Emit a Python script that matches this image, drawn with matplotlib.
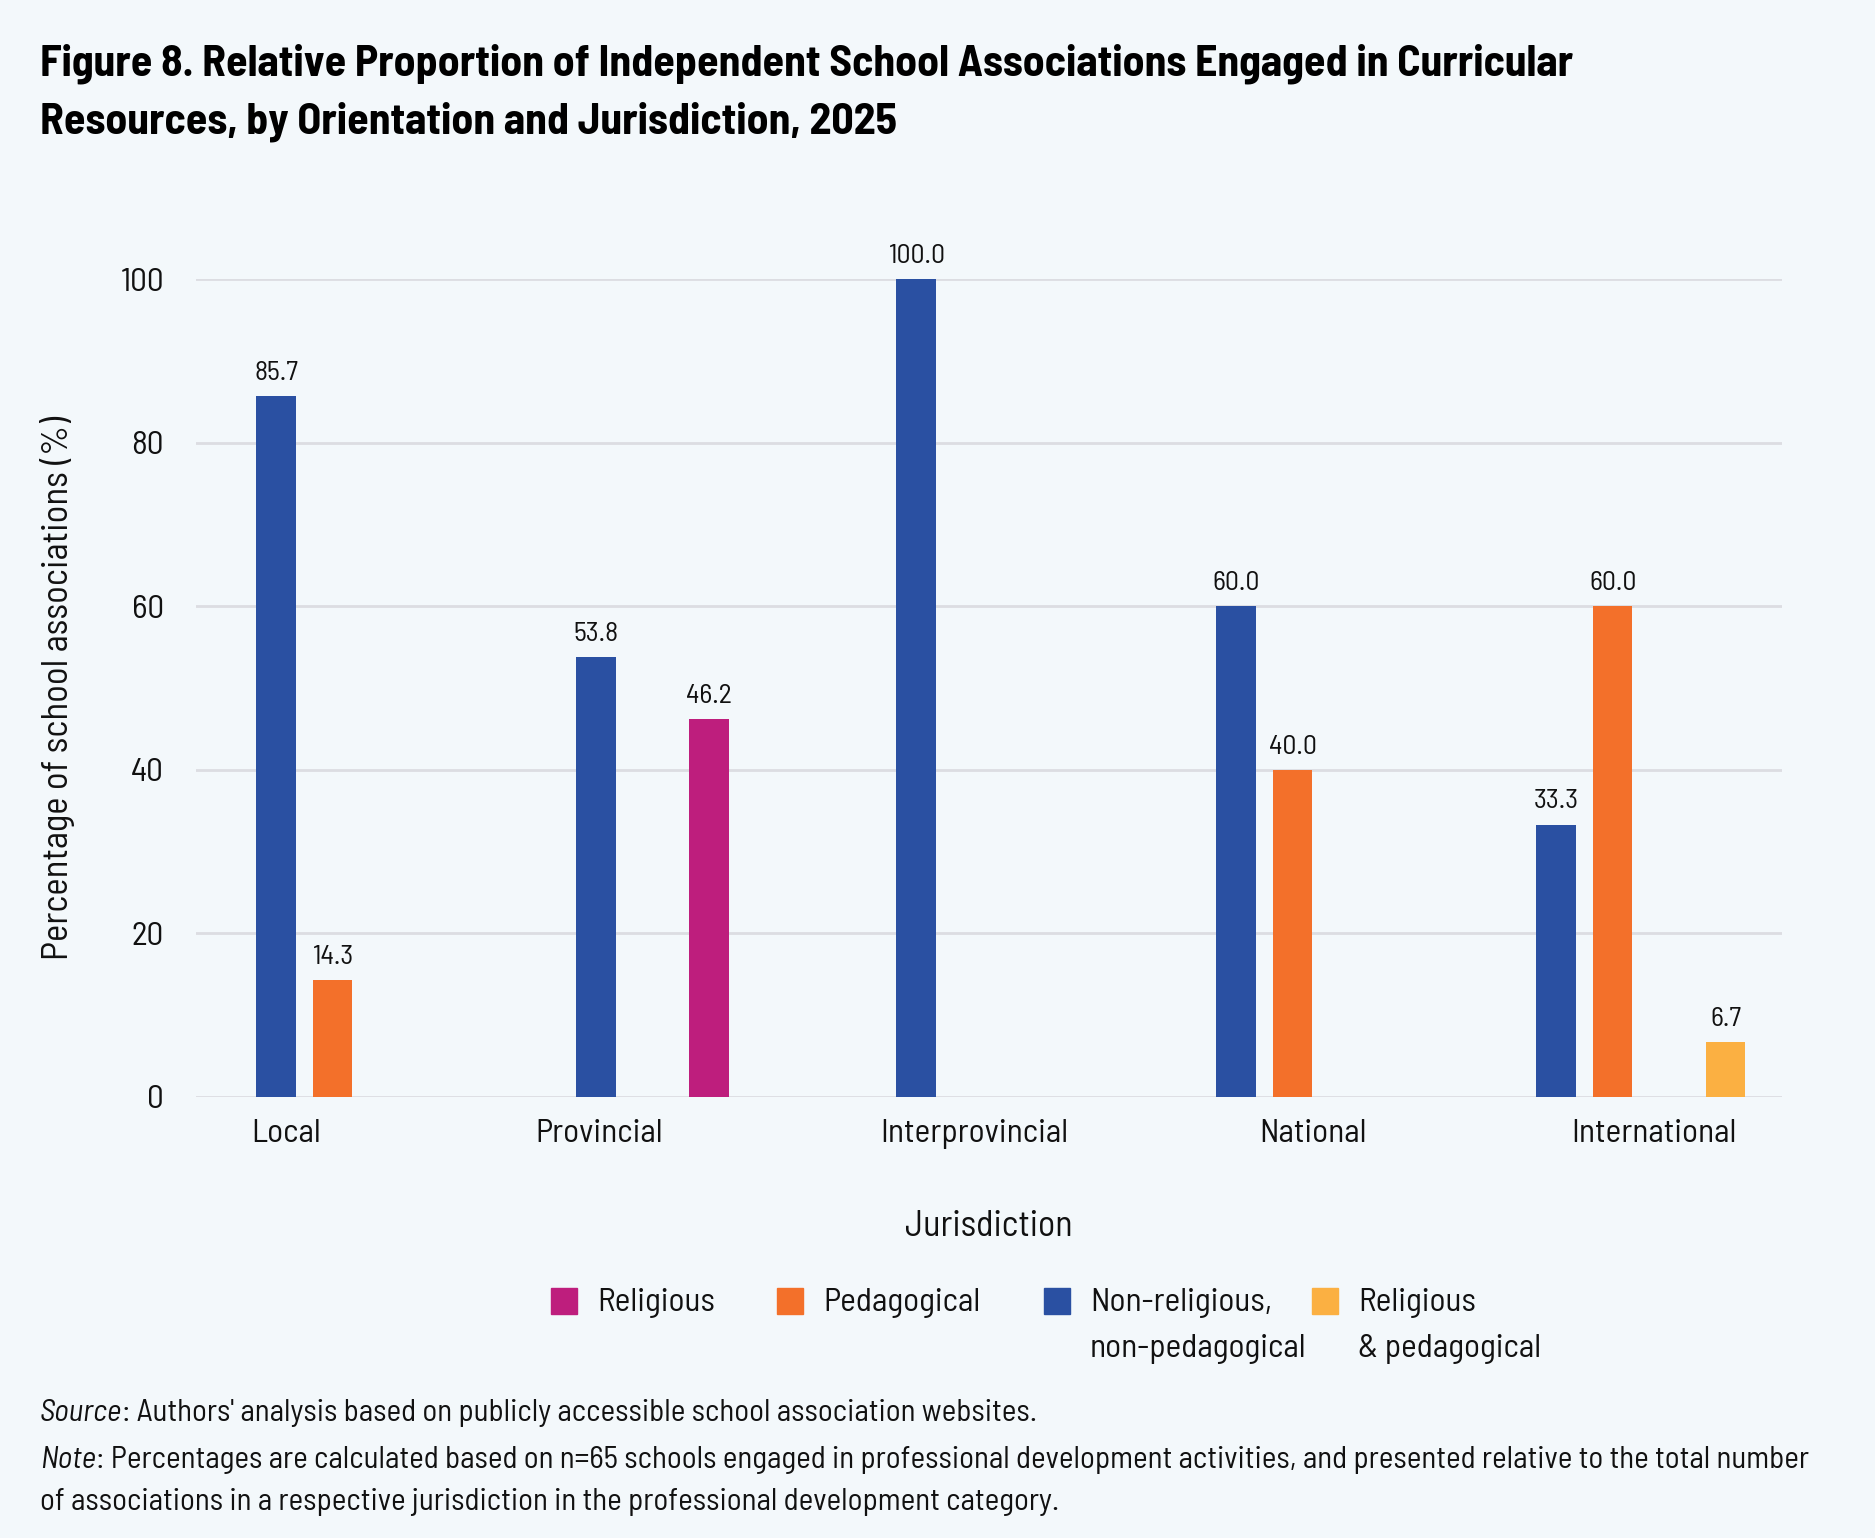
import matplotlib
matplotlib.use('Agg')
import numpy as np
import matplotlib.pyplot as plt
from matplotlib import font_manager
from matplotlib.patches import Rectangle

# data
jurisdictions = ['Local', 'Provincial', 'Interprovincial', 'National', 'International']
non_religious = [85.7, 53.8, 100.0, 60.0, 33.3]
pedagogical = [14.3, None, None, 40.0, 60.0]
religious = [None, 46.2, None, None, None]
religious_ped = [None, None, None, None, 6.7]

series_names = ['Religious', 'Pedagogical', 'Non-religious,\nnon-pedagogical', 'Religious\n& pedagogical']
colors = {'Religious': '#BE1E7D', 'Pedagogical': '#F3702A',
          'Non-religious,\nnon-pedagogical': '#2A50A2', 'Religious\n& pedagogical': '#FBB042'}

# slot of each series inside a group (blue, orange, magenta, yellow)
slots = [('Non-religious,\nnon-pedagogical', non_religious), ('Pedagogical', pedagogical),
         ('Religious', religious), ('Religious\n& pedagogical', religious_ped)]

tick_shift = [0.031, 0.009, 0.181, 0.239, 0.306]


def pick(cands):
    have = set(f.name for f in font_manager.fontManager.ttflist)
    for c in cands:
        if c in have:
            return c
    return 'DejaVu Sans'


body_font = pick(['Barlow Semi Condensed', 'Barlow Condensed', 'Roboto Condensed'])
title_font = pick(['Barlow Semi Condensed', 'Barlow Condensed', 'Roboto Condensed'])
plt.rcParams['font.family'] = [body_font, 'DejaVu Sans']

BG = '#F3F8FB'
INK = '#111111'
W, H = 1875, 1538
fig = plt.figure(figsize=(W / 100, H / 100), dpi=100, facecolor=BG)
ax = fig.add_axes([196 / W, 1 - 1097 / H, (1782 - 196) / W, (1097 - 279) / H])
ax.set_facecolor(BG)

x = np.arange(len(jurisdictions))
step = 0.1766
width = 0.124
for k, (name, vals) in enumerate(slots):
    for i, v in enumerate(vals):
        if v is None:
            continue
        ax.bar(x[i] + k * step, v, width=width, color=colors[name], zorder=3)
        ax.annotate('%.1f' % v, (x[i] + k * step, v), xytext=(0, 8), textcoords='offset points',
                    ha='center', va='bottom', fontsize=20, color=INK)

ax.set_xlim(-0.25, 4.706)
ax.set_ylim(0, 100)
ax.set_yticks([0, 20, 40, 60, 80, 100])
ax.yaxis.grid(True, color='#DCDDE2', linewidth=2, zorder=0)
ax.set_axisbelow(True)
for s in ax.spines.values():
    s.set_visible(False)
ax.tick_params(axis='both', length=0, labelsize=24, colors=INK)
ax.tick_params(axis='y', pad=23)
ax.tick_params(axis='x', pad=15.5)
ax.set_xticks(x + np.array(tick_shift))
ax.set_xticklabels(jurisdictions)

ax.set_ylabel('Percentage of school associations (%)', fontsize=26.5, color=INK)
ax.yaxis.set_label_coords(-0.0760, 0.5)
ax.set_xlabel('Jurisdiction', fontsize=26, color=INK)
ax.xaxis.set_label_coords(0.5, -0.158)
ax.xaxis.label.set_va('center')

# title
for txt, yy in [('Figure 8. Relative Proportion of Independent School Associations Engaged in Curricular', 75),
                ('Resources, by Orientation and Jurisdiction, 2025', 134)]:
    fig.text(40 / W, 1 - yy / H, txt, fontsize=31.5, fontweight='bold',
             family=[title_font, 'DejaVu Sans'], va='baseline', color='#000000')

# legend
leg_x = [551, 777, 1044, 1312]
for name, lx in zip(series_names, leg_x):
    fig.patches.append(Rectangle((lx / W, 1 - 1314 / H), 26 / W, 26 / H, transform=fig.transFigure,
                                 color=colors[name], figure=fig))
    for j, line in enumerate(name.split('\n')):
        fig.text((lx + 46) / W, 1 - (1303 + 46 * j) / H, line, fontsize=24, va='center', color=INK)

# source / note
fig.canvas.draw()
r = fig.canvas.get_renderer()
notes = [('Source', ": Authors' analysis based on publicly accessible school association websites.", 1413),
         ('Note', ': Percentages are calculated based on n=65 schools engaged in professional development activities, and presented relative to the total number', 1460)]
for it, rest, yy in notes:
    t = fig.text(40 / W, 1 - yy / H, it, fontsize=22.4, style='italic', va='center', color=INK)
    bb = t.get_window_extent(renderer=r)
    fig.text(bb.x1 / W, 1 - yy / H, rest, fontsize=22.4, va='center', color=INK)
fig.text(40 / W, 1 - 1502 / H, 'of associations in a respective jurisdiction in the professional development category.',
         fontsize=22.4, va='center', color=INK)

fig.savefig('out.png', dpi=100, facecolor=BG)
